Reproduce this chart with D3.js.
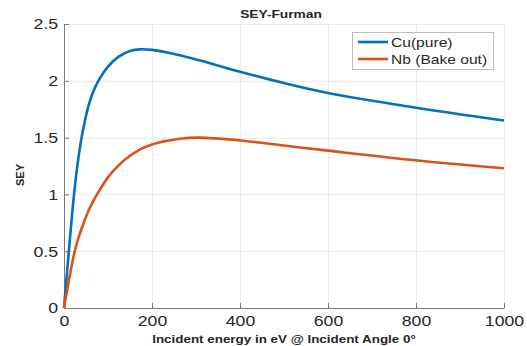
<!DOCTYPE html>
<html>
<head>
<meta charset="utf-8">
<script src="https://cdn.jsdelivr.net/npm/d3@7"></script>
<style>
  body { margin: 0; background: #fff; }
  text { font-family: "Liberation Sans", Arial, sans-serif; fill: #262626; }
</style>
</head>
<body>
<div id="wrapper"></div>
<script>
// values
const energy = [0, 5, 11, 22, 30, 40, 55, 65, 78, 100, 125, 150, 172, 200, 263, 308, 400, 500, 600, 786, 1000];
const cuPure = [0, 0.23, 0.5, 0.97, 1.24, 1.5, 1.77, 1.89, 2.0, 2.125, 2.215, 2.262, 2.277, 2.272, 2.225, 2.18, 2.08, 1.98, 1.893, 1.772, 1.65];
const nbBake = [0, 0.11, 0.24, 0.46, 0.58, 0.7, 0.85, 0.93, 1.02, 1.15, 1.26, 1.34, 1.395, 1.44, 1.49, 1.5, 1.475, 1.43, 1.385, 1.305, 1.23];
const seriesNames = ["Cu(pure)", "Nb (Bake out)"];
const seriesColors = ["#0072BD", "#D95319"];
const xTicks = [0, 200, 400, 600, 800, 1000];
const yTicks = [0, 0.5, 1, 1.5, 2, 2.5];

function drawChart() {
  // 1. Dimensions
  let dimensions = {
    width: 527,
    height: 346,
    margin: { top: 24, right: 23, bottom: 38, left: 64 },
  };
  dimensions.boundedWidth =
    dimensions.width - dimensions.margin.left - dimensions.margin.right;
  dimensions.boundedHeight =
    dimensions.height - dimensions.margin.top - dimensions.margin.bottom;

  // 2. Canvas
  const wrapper = d3
    .select("#wrapper")
    .append("svg")
    .attr("width", dimensions.width)
    .attr("height", dimensions.height);

  const bounds = wrapper
    .append("g")
    .attr("transform", `translate(${dimensions.margin.left},${dimensions.margin.top})`);

  // 3. Scales
  const xScale = d3.scaleLinear().domain([0, 1000]).range([0, dimensions.boundedWidth]);
  const yScale = d3.scaleLinear().domain([0, 2.5]).range([dimensions.boundedHeight, 0]);

  // 4. Grid
  const grid = bounds.append("g").attr("stroke", "#ebebeb").attr("stroke-width", 1);
  grid.selectAll(".vgrid").data(xTicks).join("line")
    .attr("x1", (d) => Math.round(xScale(d)) + 0.5)
    .attr("x2", (d) => Math.round(xScale(d)) + 0.5)
    .attr("y1", 0).attr("y2", dimensions.boundedHeight);
  grid.selectAll(".hgrid").data(yTicks).join("line")
    .attr("y1", (d) => Math.round(yScale(d)) + 0.5)
    .attr("y2", (d) => Math.round(yScale(d)) + 0.5)
    .attr("x1", 0).attr("x2", dimensions.boundedWidth);

  // 5. Axes
  const xAxis = bounds.append("g")
    .attr("transform", `translate(0,${dimensions.boundedHeight})`)
    .call(d3.axisBottom(xScale).tickValues(xTicks).tickFormat(d3.format("")).tickSizeInner(-5).tickSizeOuter(0).tickPadding(7));

  const yAxis = bounds.append("g")
    .call(d3.axisLeft(yScale).tickValues(yTicks).tickFormat(d3.format("")).tickSizeInner(-5).tickSizeOuter(0).tickPadding(5));

  [xAxis, yAxis].forEach((ax) => {
    ax.select(".domain").attr("stroke", "#7a7a7a");
    ax.selectAll(".tick line").attr("stroke", "#7a7a7a");
    ax.selectAll(".tick text")
      .attr("font-size", 15)
      .attr("fill", "#262626")
      .attr("transform", "scale(1.18,1)");
  });

  // 6. Lines
  const seriesData = [cuPure, nbBake];
  const lineGenerator = d3.line()
    .x((d, i) => xScale(energy[i]))
    .y((d) => yScale(d))
    .curve(d3.curveCatmullRom.alpha(0.5));

  bounds.selectAll(".series").data(seriesData).join("path")
    .attr("class", "series")
    .attr("fill", "none")
    .attr("stroke", (d, i) => seriesColors[i])
    .attr("stroke-width", 2.6)
    .attr("d", lineGenerator);

  // 7. Labels
  wrapper.append("text")
    .attr("transform", "translate(281,18) scale(1.25,1)")
    .attr("text-anchor", "middle")
    .attr("font-size", 11)
    .attr("font-weight", "bold")
    .text("SEY-Furman");

  wrapper.append("text")
    .attr("transform", "translate(284,343) scale(1.22,1)")
    .attr("text-anchor", "middle")
    .attr("font-size", 11)
    .attr("font-weight", "bold")
    .text("Incident energy in eV @ Incident Angle 0°");

  wrapper.append("text")
    .attr("transform", "translate(24,175) rotate(-90)")
    .attr("text-anchor", "middle")
    .attr("font-size", 11)
    .attr("font-weight", "bold")
    .text("SEY");

  // 8. Legend
  const legend = wrapper.append("g").attr("transform", "translate(352.5,32.5)");
  legend.append("rect")
    .attr("width", 141).attr("height", 37)
    .attr("fill", "#fff").attr("stroke", "#bdbdbd");
  const items = legend.selectAll(".item").data(seriesNames).join("g")
    .attr("transform", (d, i) => `translate(0,${9.5 + i * 17})`);
  items.append("line")
    .attr("x1", 5.5).attr("x2", 35.5)
    .attr("stroke", (d, i) => seriesColors[i])
    .attr("stroke-width", 2.6);
  items.append("text")
    .attr("transform", "translate(38.5,4.6) scale(1.2,1)")
    .attr("font-size", 13)
    .text((d) => d);
}
drawChart();
</script>
</body>
</html>
